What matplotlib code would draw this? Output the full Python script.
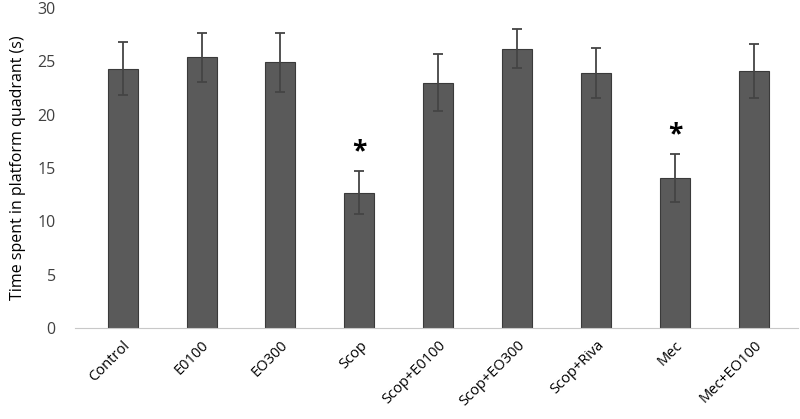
import matplotlib
matplotlib.use("Agg")
import matplotlib.pyplot as plt
import numpy as np

groups = ['Control', 'E0100', 'EO300', 'Scop', 'Scop+E0100', 'Scop+EO300',
          'Scop+Riva', 'Mec', 'Mec+EO100']
means = [24.3, 25.4, 24.9, 12.7, 23.0, 26.2, 23.9, 14.1, 24.1]
errors = [2.5, 2.3, 2.8, 2.05, 2.65, 1.8, 2.35, 2.25, 2.5]
significant = ['Scop', 'Mec']

plt.rcParams['font.family'] = ['Open Sans', 'DejaVu Sans']

fig = plt.figure(figsize=(8, 4.19), dpi=100)
ax = fig.add_axes([0.094, 0.217, 0.903, 0.764])

x = np.arange(len(groups))
ax.bar(x, means, width=0.38, color='#5a5a5a', edgecolor='#3a3a3a', linewidth=0.8,
       yerr=errors, error_kw=dict(ecolor='#444444', elinewidth=1.3, capsize=3.6, capthick=1.3))

# stars over the significant groups
for i, g in enumerate(groups):
    if g in significant:
        ax.text(i, means[i] + errors[i] + 1.8, '*', ha='center', va='center',
                fontsize=19, fontweight='bold', color='black')

ax.set_xlim(-0.6, 8.55)
ax.set_ylim(0, 30)
ax.set_yticks(range(0, 31, 5))
ax.set_xticks(x)
ax.set_xticklabels(groups, rotation=45, ha='right', rotation_mode='anchor', fontsize=10.5)
ax.tick_params(axis='y', length=0, labelsize=11.5, colors='#404040', pad=14)
ax.tick_params(axis='x', length=0, pad=7, labelcolor='black')
ax.set_ylabel('Time spent in platform quadrant (s)', fontsize=11.5, labelpad=8)

for s in ['top', 'right', 'left']:
    ax.spines[s].set_visible(False)
ax.spines['bottom'].set_color('#c8c8c8')

fig.savefig('out.png', dpi=100)
